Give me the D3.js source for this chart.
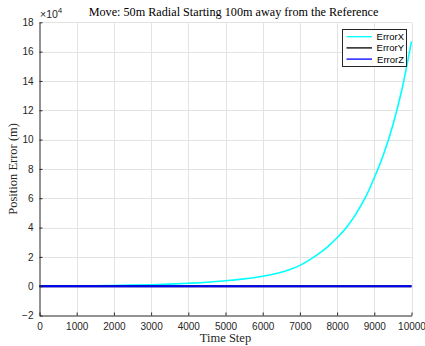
<!DOCTYPE html>
<html>
<head>
<meta charset="utf-8">
<script src="https://cdn.jsdelivr.net/npm/d3@7"></script>
<style>
  body { margin: 0; background: #fff; }
  svg text { font-family: "Liberation Sans", Arial, sans-serif; }
  .serif { font-family: "Liberation Serif", "DejaVu Serif", serif; }
</style>
</head>
<body>
<div class="container"></div>
<script>
// time steps and errors (in units of 1e4 m)
const steps = [0, 500, 1000, 1500, 2000, 2500, 3000, 3500, 4000, 4500, 5000, 5500, 5750, 6000,
  6250, 6500, 6750, 7000, 7250, 7500, 7750, 8000, 8250, 8500, 8750, 9000, 9250, 9500, 9750, 10000];
const errorX = [-0.005, 0.005, 0.015, 0.03, 0.05, 0.07, 0.1, 0.14, 0.2, 0.27, 0.37, 0.5, 0.58, 0.68,
  0.8, 0.95, 1.15, 1.42, 1.78, 2.2, 2.7, 3.3, 4.0, 4.9, 6.0, 7.4, 9.0, 11.0, 13.5, 16.7];
const errorY = steps.map(() => 0);
const errorZ = steps.map(() => 0);
const seriesNames = ["ErrorX", "ErrorY", "ErrorZ"];
const seriesColors = ["#00ffff", "#000000", "#0000ff"];
const xTicks = [0, 1000, 2000, 3000, 4000, 5000, 6000, 7000, 8000, 9000, 10000];
const yTicks = [-2, 0, 2, 4, 6, 8, 10, 12, 14, 16, 18];

const width = 425, height = 346;
const margin = { left: 39.5, right: 13.5, top: 22.3, bottom: 30.5 };

const svg = d3.select(".container").append("svg")
  .attr("width", width).attr("height", height);

const x = d3.scaleLinear().domain([0, 10000]).range([margin.left, width - margin.right]);
const y = d3.scaleLinear().domain([-2, 18]).range([height - margin.bottom, margin.top]);

// grid
const grid = svg.append("g").attr("stroke", "#e3e3e3").attr("stroke-width", 1);
grid.selectAll(".gx").data(xTicks.slice(1)).enter().append("line")
  .attr("x1", d => Math.round(x(d)) + 0.5).attr("x2", d => Math.round(x(d)) + 0.5)
  .attr("y1", y(-2)).attr("y2", y(18));
grid.selectAll(".gy").data(yTicks.slice(1)).enter().append("line")
  .attr("y1", d => Math.round(y(d)) + 0.5).attr("y2", d => Math.round(y(d)) + 0.5)
  .attr("x1", x(0)).attr("x2", x(10000));

// series
const series = [errorX, errorY, errorZ];
const line = d3.line()
  .x((d, i) => x(steps[i]))
  .y(d => y(d))
  .curve(d3.curveMonotoneX);
svg.append("g").selectAll("path").data(series).enter().append("path")
  .attr("d", d => line(d))
  .attr("fill", "none")
  .attr("stroke", (d, i) => seriesColors[i])
  .attr("stroke-width", (d, i) => i === 0 ? 1.6 : 2);

// axes
const xAxis = d3.axisBottom(x).tickValues(xTicks).tickFormat(d3.format("d"))
  .tickSizeInner(-3).tickSizeOuter(0).tickPadding(7);
const yAxis = d3.axisLeft(y).tickValues(yTicks).tickFormat(d3.format("d"))
  .tickSizeInner(-3).tickSizeOuter(0).tickPadding(6);

const gx = svg.append("g")
  .attr("transform", `translate(0, ${y(-2)})`)
  .call(xAxis);
const gy = svg.append("g")
  .attr("transform", `translate(${x(0)}, 0)`)
  .call(yAxis);
[gx, gy].forEach(g => {
  g.select(".domain").attr("stroke", "#262626");
  g.selectAll(".tick line").attr("stroke", "#262626");
  g.selectAll(".tick text").attr("fill", "#262626").attr("font-size", 10)
    .style("font-family", "Liberation Sans, Arial, sans-serif");
});

// exponent
const expo = svg.append("text").attr("x", 40).attr("y", 18)
  .attr("font-size", 10.5).attr("fill", "#262626");
expo.append("tspan").text("\u00d710");
expo.append("tspan").attr("dy", -5).attr("font-size", 8).text("4");

// title and labels
svg.append("text").attr("class", "serif")
  .attr("x", (x(0) + x(10000)) / 2 + 8).attr("y", 16)
  .attr("text-anchor", "middle").attr("font-size", 12.2).attr("fill", "#000")
  .text("Move: 50m Radial Starting 100m away from the Reference");
svg.append("text").attr("class", "serif")
  .attr("x", (x(0) + x(10000)) / 2).attr("y", 342)
  .attr("text-anchor", "middle").attr("font-size", 12.5).attr("fill", "#262626")
  .text("Time Step");
svg.append("text").attr("class", "serif")
  .attr("transform", `translate(17, ${(y(-2) + y(18)) / 2}) rotate(-90)`)
  .attr("text-anchor", "middle").attr("font-size", 12.5).attr("fill", "#262626")
  .text("Position Error (m)");

// legend
const lg = svg.append("g").attr("transform", "translate(342.5, 29.5)");
lg.append("rect").attr("width", 64).attr("height", 37)
  .attr("fill", "#fff").attr("stroke", "#262626").attr("stroke-width", 1);
seriesNames.forEach((name, i) => {
  const ly = 7.2 + i * 11.2;
  lg.append("line").attr("x1", 4).attr("x2", 29.5).attr("y1", ly).attr("y2", ly)
    .attr("stroke", seriesColors[i]).attr("stroke-width", 1.3);
  lg.append("text").attr("x", 61.5).attr("y", ly + 3.5)
    .attr("text-anchor", "end").attr("font-size", 9.5).attr("fill", "#000").text(name);
});
</script>
</body>
</html>
